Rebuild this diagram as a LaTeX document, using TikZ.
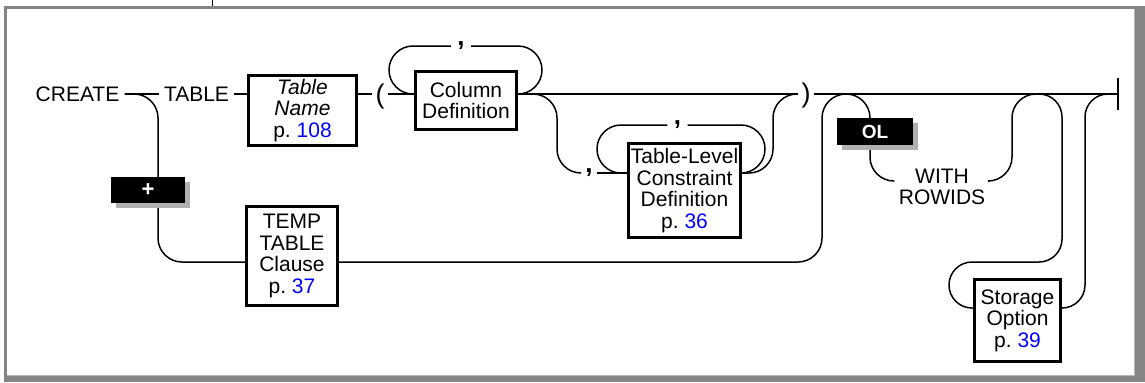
\documentclass[tikz,border=0pt]{standalone}
\usepackage{fontspec}
\setmainfont{Liberation Sans}
\usepackage{tikz}
\usetikzlibrary{shadows}
\definecolor{framegray}{HTML}{858585}
\definecolor{frameedge}{HTML}{B8B8B8}
\definecolor{flagshadow}{HTML}{B0B0B0}
\definecolor{pageref}{HTML}{0000FF}
\newcommand{\synpage}[1]{p.\ \textcolor{pageref}{#1}}
\tikzset{
  syn line/.style={line width=.75pt,rounded corners=12pt},
  syn word/.style={inner sep=2.5pt,font=\fontsize{10.5}{10.8}\selectfont},
  syn box/.style={draw,line width=1.3pt,align=center,inner sep=0pt,font=\fontsize{10.5}{10.8}\selectfont},
  syn paren/.style={inner sep=1.5pt,font=\fontsize{13.5}{14}\selectfont},
  syn comma/.style={inner sep=3pt,font=\fontsize{13}{14}\selectfont\bfseries},
  syn flag/.style={fill=black,text=white,inner sep=0pt,font=\fontsize{9.5}{10}\selectfont\bfseries,
    drop shadow={shadow xshift=2.5pt,shadow yshift=-2.5pt,fill=flagshadow,opacity=1}}
}

\begin{document}
\begin{tikzpicture}[x=.5pt,y=-.5pt]
  \useasboundingbox (0,0) rectangle (1145,382);
  \fill[framegray] (4,6) rectangle (1145,382);
  \fill[white] (7,9) rectangle (1134,375);
  \draw[frameedge,line width=.5pt] (1134,9) -- (1134,375) -- (7,375);
  \draw[line width=.5pt] (212,0) -- (212,6);
  \coordinate (main) at (0,94);
  \coordinate (loopC) at (0,46);
  \coordinate (loopT) at (0,125);
  \coordinate (rowC) at (0,173);
  \coordinate (rowW) at (0,181);
  \coordinate (rowT) at (0,262);
  \coordinate (rowS) at (0,308);
  \coordinate (arch1) at (846,94);
  \coordinate (arch2) at (1037,94);
  \coordinate (stop) at (1118,94);

  \node[syn word] (create) at (77.5,94) {CREATE};
  \node[syn word] (table) at (196.5,94) {TABLE};
  \node[syn box,minimum width=54.2pt,minimum height=35.2pt] (tname) at (302.5,110.5) {\textit{Table}\\\textit{Name}\\\synpage{108}};
  \node[syn paren] (lpar) at (380,97) {(};
  \node[syn box,minimum width=50.7pt,minimum height=29.2pt] (cdef) at (466,100.5) {Column\\Definition};
  \node[syn comma,anchor=base] (c1) at (461,45) {,};
  \node[syn comma,anchor=base,inner sep=2pt] (c3) at (589,172) {,};
  \node[syn box,minimum width=56.2pt,minimum height=47.2pt] (tlc) at (684.5,190.5) {Table-Level\\Constraint\\Definition\\\synpage{36}};
  \node[syn comma,anchor=base] (c2) at (677.5,124) {,};
  \node[syn paren] (rpar) at (806,96) {)};
  \node[syn box,minimum width=45.7pt,minimum height=49.7pt] (temp) at (292,256) {TEMP\\TABLE\\Clause\\\synpage{37}};
  \node[syn word,align=center,inner sep=2pt] (with) at (942,187) {WITH\\ROWIDS};
  \node[syn box,minimum width=43.2pt,minimum height=41.2pt] (stor) at (1017.5,320.5) {Storage\\Option\\\synpage{39}};

  \draw[syn line] (create) -- (table);
  \draw[syn line] (table) -- (tname.west |- main);
  \draw[syn line] (tname.east |- main) -- (lpar.west |- main);
  \draw[syn line] (lpar.east |- main) -- (cdef.west |- main);
  \draw[syn line] (cdef.west |- main) -- (389,94) |- (c1.west |- loopC);
  \draw[syn line] (c1.east |- loopC) -| (542,94) -- (cdef.east |- main);
  \draw[syn line] (cdef.east |- main) -- (rpar.west |- main);
  \draw[syn line] (cdef.east |- main) -| (557,173) -- (c3.west |- rowC);
  \draw[syn line] (c3.east |- rowC) -- (tlc.west |- rowC);
  \draw[syn line] (tlc.west |- rowC) -- (597,173) |- (c2.west |- loopT);
  \draw[syn line] (c2.east |- loopT) -| (765,173) -- (tlc.east |- rowC);
  \draw[syn line] (tlc.east |- rowC) -| (773,94) -- (rpar.west |- main);
  \draw[syn line] (rpar.east |- main) -- (stop);
  \draw[syn line] ([yshift=8pt]stop) -- ([yshift=-8pt]stop);
  \draw[syn line] (create.east) -| (158,262) -- (temp.west |- rowT);
  \draw[syn line] (temp.east |- rowT) -| (822,94) -- (arch1);
  \draw[syn line] (arch1) -| (870,181) -- (with.west |- rowW);
  \draw[syn line] (with.east |- rowW) -| (1012,94) -- (arch2);
  \draw[syn line,rounded corners=11.5pt] (arch2) -| (1062,262) -| (949,308) -- (stor.west |- rowS);
  \draw[syn line,rounded corners=11.5pt] (stor.east |- rowS) -| (1085,94) -- (stop);

  \node[syn flag,minimum width=37pt,minimum height=13pt,font=\fontsize{11}{12}\selectfont\bfseries] (plus) at (148,190) {+};
  \node[syn flag,minimum width=38pt,minimum height=13.5pt] (ol) at (875,131.5) {OL};
\end{tikzpicture}
\end{document}
